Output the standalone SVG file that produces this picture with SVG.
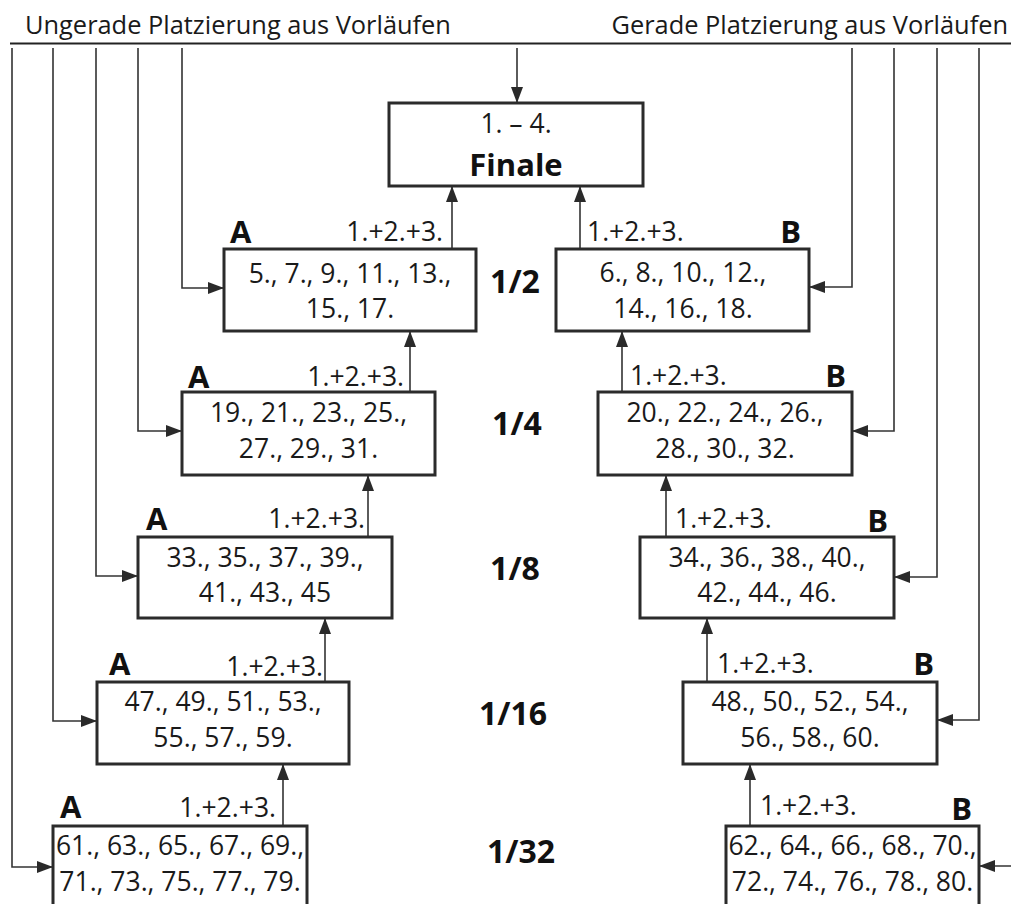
<svg xmlns="http://www.w3.org/2000/svg" width="1011" height="904" viewBox="0 0 1011 904">
<defs>
<marker id="ah" markerUnits="userSpaceOnUse" markerWidth="17" markerHeight="13" viewBox="0 0 17 13" refX="16" refY="6.5" orient="auto">
<path d="M0,0.5 L16,6.5 L0,12.5 z" fill="#2a2a2a"/>
</marker>
<style>
.box{fill:#fff;stroke:#2b2b2b;stroke-width:3}
.ln{fill:none;stroke:#333;stroke-width:1.6}
.ar{fill:none;stroke:#333;stroke-width:1.6;marker-end:url(#ah)}
.t{font-family:"Open Sans","Noto Sans",sans-serif;font-size:26.5px;fill:#1a1a1a}
.c{text-anchor:middle}
.e{text-anchor:end}
.b{font-family:"Open Sans","Noto Sans",sans-serif;font-weight:bold;font-size:31px;fill:#111}
.r{font-family:"Open Sans","Noto Sans",sans-serif;font-weight:bold;font-size:32px;fill:#111;text-anchor:middle}
.h{font-family:"Open Sans","Noto Sans",sans-serif;font-size:25.4px;fill:#1a1a1a}
</style>
</defs>
<rect width="1011" height="904" fill="#fff"/>

<g id="header">
<text class="h" x="25" y="34">Ungerade Platzierung aus Vorläufen</text>
<text class="h e" x="1008" y="34">Gerade Platzierung aus Vorläufen</text>
<line x1="10" y1="43.5" x2="1011" y2="43.5" stroke="#222" stroke-width="2"/>
</g>

<g id="connectors">
<line class="ar" x1="517" y1="48" x2="517" y2="103"/>
<!-- left feeds -->
<polyline class="ar" points="182,48 182,288 224,288"/>
<polyline class="ar" points="138,48 138,431 182,431"/>
<polyline class="ar" points="96,48 96,576 138,576"/>
<polyline class="ar" points="53,48 53,721 97,721"/>
<polyline class="ar" points="12,48 12,867 53,867"/>
<!-- right feeds -->
<polyline class="ar" points="852,48 852,287 809,287"/>
<polyline class="ar" points="894,48 894,431 852,431"/>
<polyline class="ar" points="937,48 937,577 894,577"/>
<polyline class="ar" points="979,48 979,720 937,720"/>
<line class="ar" x1="1013" y1="866" x2="979" y2="866"/>
<!-- A chain -->
<line class="ar" x1="452" y1="249" x2="452" y2="186"/>
<line class="ar" x1="410" y1="392" x2="410" y2="331"/>
<line class="ar" x1="368" y1="537" x2="368" y2="475"/>
<line class="ar" x1="325" y1="682" x2="325" y2="618"/>
<line class="ar" x1="283" y1="826" x2="283" y2="764"/>
<!-- B chain -->
<line class="ar" x1="580" y1="249" x2="580" y2="186"/>
<line class="ar" x1="622" y1="392" x2="622" y2="331"/>
<line class="ar" x1="666" y1="537" x2="666" y2="475"/>
<line class="ar" x1="707" y1="682" x2="707" y2="618"/>
<line class="ar" x1="750" y1="826" x2="750" y2="764"/>
<!-- labels -->
<text class="t e" x="443" y="241">1.+2.+3.</text>
<text class="t e" x="404" y="386">1.+2.+3.</text>
<text class="t e" x="365" y="528">1.+2.+3.</text>
<text class="t e" x="323" y="676">1.+2.+3.</text>
<text class="t e" x="276" y="817">1.+2.+3.</text>
<text class="t" x="587" y="241">1.+2.+3.</text>
<text class="t" x="630" y="385">1.+2.+3.</text>
<text class="t" x="675" y="528">1.+2.+3.</text>
<text class="t" x="717" y="673">1.+2.+3.</text>
<text class="t" x="760" y="815">1.+2.+3.</text>
</g>

<g id="finale">
<rect class="box" x="389" y="103" width="254" height="83"/>
<text class="t c" x="516" y="133">1. – 4.</text>
<text class="b" x="516" y="176" text-anchor="middle">Finale</text>
</g>

<g id="round-labels">
<text class="r" x="515" y="293">1/2</text>
<text class="r" x="517" y="435">1/4</text>
<text class="r" x="515" y="580">1/8</text>
<text class="r" x="513" y="725">1/16</text>
<text class="r" x="521" y="863">1/32</text>
</g>

<g id="A2">
<rect class="box" x="224" y="249" width="252" height="82"/>
<text class="b" x="230" y="243">A</text>
<text class="t c" x="350" y="283">5., 7., 9., 11., 13.,</text>
<text class="t c" x="350" y="318">15., 17.</text>
</g>
<g id="B2">
<rect class="box" x="556" y="249" width="253" height="82"/>
<text class="b e" x="801" y="243">B</text>
<text class="t c" x="683" y="282">6., 8., 10., 12.,</text>
<text class="t c" x="683" y="318">14., 16., 18.</text>
</g>
<g id="A4">
<rect class="box" x="182" y="392" width="253" height="83"/>
<text class="b" x="188" y="388">A</text>
<text class="t c" x="308.5" y="422">19., 21., 23., 25.,</text>
<text class="t c" x="308.5" y="458">27., 29., 31.</text>
</g>
<g id="B4">
<rect class="box" x="598" y="392" width="254" height="83"/>
<text class="b e" x="846" y="387">B</text>
<text class="t c" x="725" y="422">20., 22., 24., 26.,</text>
<text class="t c" x="725" y="458">28., 30., 32.</text>
</g>
<g id="A8">
<rect class="box" x="138" y="537" width="254" height="81"/>
<text class="b" x="146" y="530">A</text>
<text class="t c" x="265" y="567">33., 35., 37., 39.,</text>
<text class="t c" x="265" y="602">41., 43., 45</text>
</g>
<g id="B8">
<rect class="box" x="640" y="537" width="254" height="81"/>
<text class="b e" x="888" y="532">B</text>
<text class="t c" x="767" y="567">34., 36., 38., 40.,</text>
<text class="t c" x="767" y="602">42., 44., 46.</text>
</g>
<g id="A16">
<rect class="box" x="97" y="682" width="252" height="82"/>
<text class="b" x="109" y="675">A</text>
<text class="t c" x="223" y="711">47., 49., 51., 53.,</text>
<text class="t c" x="223" y="747">55., 57., 59.</text>
</g>
<g id="B16">
<rect class="box" x="683" y="682" width="254" height="82"/>
<text class="b e" x="934" y="675">B</text>
<text class="t c" x="810" y="711">48., 50., 52., 54.,</text>
<text class="t c" x="810" y="747">56., 58., 60.</text>
</g>
<g id="A32">
<rect class="box" x="53" y="826" width="254" height="100"/>
<text class="b" x="60" y="818">A</text>
<text class="t c" x="180" y="855">61., 63., 65., 67., 69.,</text>
<text class="t c" x="180" y="891">71., 73., 75., 77., 79.</text>
</g>
<g id="B32">
<rect class="box" x="726" y="826" width="253" height="100"/>
<text class="b e" x="972" y="820">B</text>
<text class="t c" x="852.5" y="855">62., 64., 66., 68., 70.,</text>
<text class="t c" x="852.5" y="891">72., 74., 76., 78., 80.</text>
</g>
</svg>
